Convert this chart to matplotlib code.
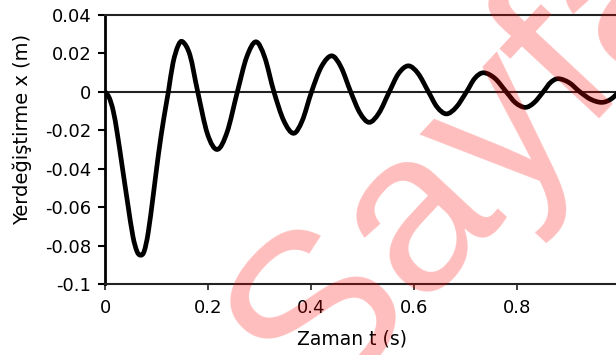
import numpy as np
import matplotlib.pyplot as plt
from matplotlib.path import Path
from matplotlib.patches import PathPatch

plt.rcParams['font.family'] = ['DejaVu Sans']

# displacement readings (time in s, displacement in m)
t = [0.000, 0.008, 0.016, 0.024, 0.034, 0.044, 0.054, 0.062, 0.069, 0.076,
     0.084, 0.094, 0.104, 0.114, 0.123, 0.132, 0.142, 0.151, 0.165, 0.180,
     0.199, 0.218, 0.237, 0.257, 0.275, 0.293, 0.310, 0.328, 0.347, 0.366,
     0.383, 0.401, 0.420, 0.440, 0.458, 0.477, 0.495, 0.513, 0.532, 0.552,
     0.570, 0.589, 0.608, 0.628, 0.645, 0.663, 0.682, 0.702, 0.718, 0.735,
     0.757, 0.779, 0.797, 0.816, 0.833, 0.851, 0.865, 0.880, 0.901, 0.922,
     0.943, 0.964, 0.982, 1.000]
x = [0.0, -0.003, -0.010, -0.022, -0.040, -0.058, -0.075, -0.083, -0.085, -0.083,
     -0.073, -0.053, -0.032, -0.014, 0.0, 0.015, 0.024, 0.026, 0.019, 0.0,
     -0.022, -0.030, -0.021, 0.0, 0.018, 0.026, 0.018, 0.0, -0.015, -0.0216,
     -0.015, 0.0, 0.013, 0.0187, 0.013, 0.0, -0.011, -0.0159, -0.011, 0.0,
     0.0095, 0.0135, 0.0095, 0.0, -0.008, -0.0115, -0.008, 0.0, 0.007, 0.0099,
     0.007, 0.0, -0.0057, -0.0081, -0.0057, 0.0, 0.0048, 0.0068, 0.0048, 0.0,
     -0.0039, -0.0055, -0.0039, 0.0005]

xticks = [0, 0.2, 0.4, 0.6, 0.8]
xticklabels = ['0', '0.2', '0.4', '0.6', '0.8']
yticks = [0.04, 0.02, 0, -0.02, -0.04, -0.06, -0.08, -0.1]
yticklabels = ['0.04', '0.02', '0', '-0.02', '-0.04', '-0.06', '-0.08', '-0.1']


def smooth_path(xs, ys):
    # Catmull-Rom style cubic Bezier through the points
    p = np.column_stack([xs, ys])
    n = len(p)
    verts = [p[0]]
    codes = [Path.MOVETO]
    for i in range(n - 1):
        p0 = p[max(i - 1, 0)]
        p1 = p[i]
        p2 = p[i + 1]
        p3 = p[min(i + 2, n - 1)]
        c1 = p1 + (p2 - p0) / 6.0
        c2 = p2 - (p3 - p1) / 6.0
        verts += [c1, c2, p2]
        codes += [Path.CURVE4] * 3
    return Path(verts, codes)


fig = plt.figure(figsize=(6.16, 3.55), dpi=100)
ax = fig.add_axes([0.1705, 0.2, 0.836, 0.758])

ax.add_patch(PathPatch(smooth_path(t, x), facecolor='none', edgecolor='black',
                       lw=3.4, capstyle='round', joinstyle='round', zorder=3))

ax.set_xlim(0, 1.0)
ax.set_ylim(-0.1, 0.04)
ax.axhline(0, color='#222222', lw=1.5, zorder=2)

ax.set_xticks(xticks)
ax.set_xticklabels(xticklabels)
ax.set_yticks(yticks)
ax.set_yticklabels(yticklabels)
ax.tick_params(axis='x', direction='out', length=4, width=1.2, pad=7,
               labelsize=13, color='#222222')
ax.tick_params(axis='y', direction='out', length=5, width=1.5, pad=5,
               labelsize=13, color='black')

ax.spines['right'].set_visible(False)
ax.spines['left'].set_linewidth(2.0)
ax.spines['left'].set_color('black')
ax.spines['top'].set_linewidth(1.5)
ax.spines['top'].set_color('#222222')
ax.spines['bottom'].set_linewidth(1.5)
ax.spines['bottom'].set_color('#222222')

fig.text(0.036, 0.634, 'Yerdeğiştirme x (m)', rotation=90, ha='center',
         va='center', fontsize=14)
fig.text(0.572, 0.045, 'Zaman t (s)', ha='center', va='center', fontsize=13.5)

# watermark
fig.text(0.5097, -0.166, 'Sayfa', rotation=47, rotation_mode='anchor',
         ha='left', va='baseline', fontsize=165, color='red', alpha=0.26,
         family='Liberation Sans', zorder=10)

fig.savefig('out.png', dpi=100)
